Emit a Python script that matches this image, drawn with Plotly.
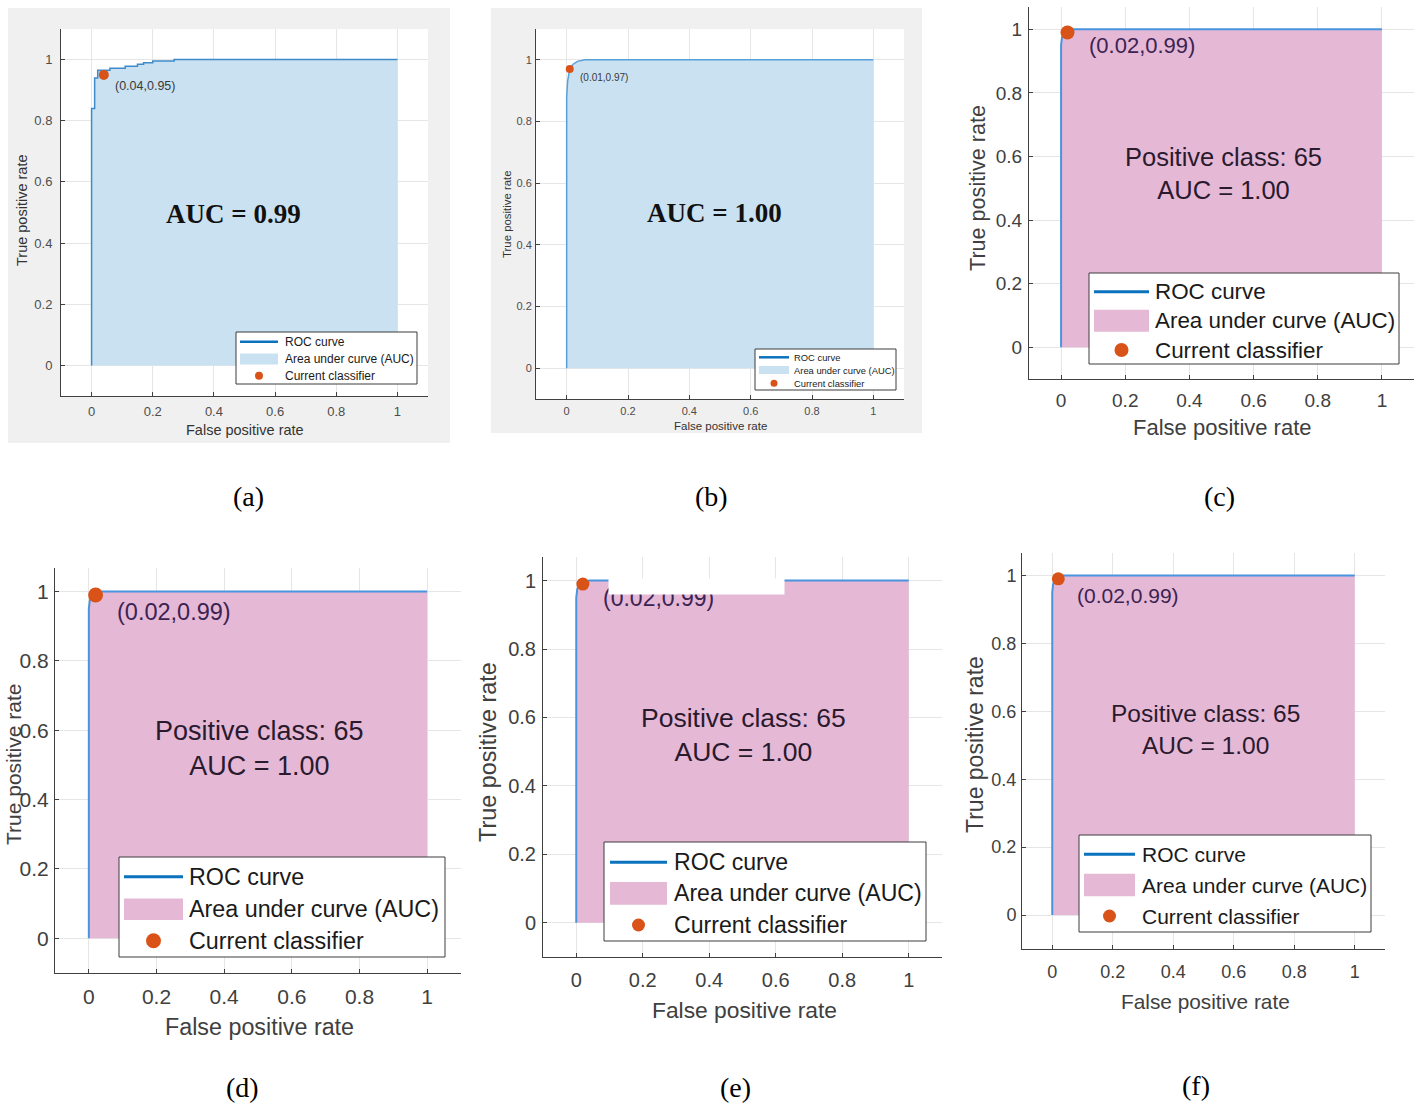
import plotly.graph_objects as go

W, H = 1418, 1106

# ---------------- data ----------------
tick_vals = [0, 0.2, 0.4, 0.6, 0.8, 1]
tick_text = ["0", "0.2", "0.4", "0.6", "0.8", "1"]
legend_labels = ["ROC curve", "Area under curve (AUC)", "Current classifier"]
x_title = "False positive rate"
y_title = "True positive rate"
panel_letters = ["(a)", "(b)", "(c)", "(d)", "(e)", "(f)"]

fpr_a = [0, 0, 0.01, 0.01, 0.02, 0.02, 0.06, 0.06, 0.11, 0.11, 0.15, 0.15, 0.17, 0.17, 0.20, 0.20, 0.27, 0.27, 1]
tpr_a = [0, 0.84, 0.84, 0.94, 0.94, 0.965, 0.965, 0.972, 0.972, 0.978, 0.978, 0.985, 0.985, 0.99, 0.99, 0.995, 0.995, 1.0, 1.0]
op_a = [0.04, 0.95]
auc_a = 0.99

fpr_b = [0, 0, 0.003, 0.01, 0.02, 0.035, 0.06, 0.15, 1]
tpr_b = [0, 0.88, 0.93, 0.97, 0.985, 0.995, 1.0, 1.0, 1.0]
op_b = [0.01, 0.97]
auc_b = 1.00

fpr_c = [0, 0, 0.003, 0.008, 0.015, 0.025, 0.04, 1]
tpr_c = [0, 0.95, 0.975, 0.985, 0.99, 0.997, 1.0, 1.0]
fpr_d = [0, 0, 0.003, 0.008, 0.015, 0.025, 0.04, 1]
tpr_d = [0, 0.95, 0.975, 0.985, 0.99, 0.997, 1.0, 1.0]
fpr_e = [0, 0, 0.003, 0.008, 0.015, 0.025, 0.04, 1]
tpr_e = [0, 0.95, 0.975, 0.985, 0.99, 0.997, 1.0, 1.0]
fpr_f = [0, 0, 0.003, 0.008, 0.015, 0.025, 0.04, 1]
tpr_f = [0, 0.95, 0.975, 0.985, 0.99, 0.997, 1.0, 1.0]
op_cdef = [0.02, 0.99]
positive_class = 65
auc_cdef = 1.00

# ---------------- styles / geometry (pixels) ----------------
BLUE_FILL = "#c9e1f1"
PINK_FILL = "#e5b8d6"
ORANGE = "#d95319"
LEG_LINE = "#0b72bd"

panels = [
    dict(fpr=fpr_a, tpr=tpr_a, op=op_a, ytop=1.1,
         ax=(61, 428, 29, 396), fill=BLUE_FILL, line="#3d8bcb", lw=1.5,
         main="<b>AUC = %.2f</b>" % auc_a, main_xy=(233, 214), main_font=27, main_family="Liberation Serif", main_color="#111111",
         lab_shift=(9, -11), lab_font=12.5, lab_color="#3a3a3a", msize=10,
         tick_font=13, tick_color="#4d4d4d", xstand=3, ystand=5,
         xt=(245, 430, 14.5), yt=(22, 211, 14.5), title_color="#333333",
         leg=dict(box=(236, 417, 332, 384), rows=(341.7, 359, 375.7), icon=(240, 278), ah=11, ms=8, lw=2.5, tx=283, font=12),
         bg=(8, 8, 450, 443), letter=(248, 497)),
    dict(fpr=fpr_b, tpr=tpr_b, op=op_b, ytop=1.1,
         ax=(536, 904, 29, 399), fill=BLUE_FILL, line="#5aa0d8", lw=1.5,
         main="<b>AUC = %.2f</b>" % auc_b, main_xy=(714, 213), main_font=27, main_family="Liberation Serif", main_color="#111111",
         lab_shift=(8, -8), lab_font=10, lab_color="#3a3a3a", msize=8,
         tick_font=11, tick_color="#4d4d4d", xstand=2, ystand=1,
         xt=(720, 426, 11.5), yt=(507, 214, 11.4), title_color="#333333",
         leg=dict(box=(755, 896, 349, 390), rows=(357.3, 370, 383.3), icon=(759, 789), ah=8, ms=7, lw=2.5, tx=792, font=9.4),
         bg=(491, 8, 922, 433), letter=(711, 497)),
    dict(fpr=fpr_c, tpr=tpr_c, op=op_cdef, ytop=1.07,
         ax=(1029, 1414, 7, 379), fill=PINK_FILL, line="#4a94dd", lw=2,
         main="Positive class: %d<br>AUC = %.2f" % (positive_class, auc_cdef), main_xy=(1223, 173), main_font=25.5,
         main_family="Liberation Sans", main_color="#2a1a2e",
         lab_shift=(19, -13.5), lab_font=22, lab_color="#3b2352", msize=14,
         tick_font=19, tick_color="#404040", xstand=4, ystand=2,
         xt=(1222.5, 427, 22), yt=(977, 188, 21.6), title_color="#404040",
         leg=dict(box=(1089, 1399, 273, 364), rows=(291.7, 320.7, 350), icon=(1094, 1149), ah=22, ms=14, lw=3, tx=1153, font=22.4),
         bg=None, letter=(1219, 497)),
    dict(fpr=fpr_d, tpr=tpr_d, op=op_cdef, ytop=1.068,
         ax=(55, 461, 568, 973), fill=PINK_FILL, line="#4a94dd", lw=2,
         main="Positive class: %d<br>AUC = %.2f" % (positive_class, auc_cdef), main_xy=(259, 748), main_font=27,
         main_family="Liberation Sans", main_color="#2a1a2e",
         lab_shift=(19, -17), lab_font=23.5, lab_color="#3b2352", msize=15,
         tick_font=21, tick_color="#404040", xstand=5, ystand=1,
         xt=(259.5, 1027, 23.3), yt=(13, 765, 21), title_color="#404040",
         leg=dict(box=(119, 445, 857, 957), rows=(876.7, 909.3, 940.7), icon=(124, 183), ah=21.6, ms=15, lw=3, tx=187, font=23.3),
         bg=None, letter=(242, 1087)),
    dict(fpr=fpr_e, tpr=tpr_e, op=op_cdef, ytop=1.069,
         ax=(543, 942, 557, 957), fill=PINK_FILL, line="#4a94dd", lw=2,
         main="Positive class: %d<br>AUC = %.2f" % (positive_class, auc_cdef), main_xy=(743, 735), main_font=26.5,
         main_family="Liberation Sans", main_color="#2a1a2e",
         lab_shift=(18, -14), lab_font=23, lab_color="#3b2352", msize=13,
         tick_font=20, tick_color="#404040", xstand=5, ystand=2,
         xt=(744.5, 1010, 22.8), yt=(488, 752, 23.4), title_color="#404040",
         leg=dict(box=(604, 926, 842, 941), rows=(862.3, 893.3, 925), icon=(610, 667), ah=22.7, ms=13, lw=3, tx=672, font=23.1),
         bg=None, letter=(735, 1087)),
    dict(fpr=fpr_f, tpr=tpr_f, op=op_cdef, ytop=1.066,
         ax=(1022, 1385, 553, 949), fill=PINK_FILL, line="#4a94dd", lw=2,
         main="Positive class: %d<br>AUC = %.2f" % (positive_class, auc_cdef), main_xy=(1205, 729), main_font=24.5,
         main_family="Liberation Sans", main_color="#2a1a2e",
         lab_shift=(17, -16.5), lab_font=21, lab_color="#3b2352", msize=13,
         tick_font=18, tick_color="#404040", xstand=6, ystand=1,
         xt=(1205.5, 1001, 20.8), yt=(975, 745, 23), title_color="#404040",
         leg=dict(box=(1079, 1371, 835, 932), rows=(854.3, 885, 916), icon=(1084, 1135), ah=22.7, ms=13, lw=3, tx=1140, font=21),
         bg=None, letter=(1196, 1085)),
]

REDACT_E = (608, 578, 783, 593)  # white box covering part of panel (e)


def px(x):
    return x / W


def py(y):
    return 1 - y / H


fig = go.Figure()
shapes = []
annotations = []
layout = {}

for i, p in enumerate(panels, 1):
    sx = "" if i == 1 else str(i)
    xref, yref = "x" + sx, "y" + sx
    x0, x1, yt_, yb_ = p["ax"]

    # area under curve
    fig.add_trace(go.Scatter(x=p["fpr"], y=p["tpr"], mode="lines", fill="tozeroy",
                             fillcolor=p["fill"], line=dict(width=0, color=p["fill"]),
                             name=legend_labels[1], showlegend=False, hoverinfo="skip",
                             xaxis=xref, yaxis=yref))
    # ROC curve
    fig.add_trace(go.Scatter(x=p["fpr"], y=p["tpr"], mode="lines",
                             line=dict(width=p["lw"], color=p["line"]),
                             name=legend_labels[0], showlegend=False,
                             xaxis=xref, yaxis=yref))
    # current classifier
    fig.add_trace(go.Scatter(x=[p["op"][0]], y=[p["op"][1]], mode="markers",
                             marker=dict(size=p["msize"], color=ORANGE, line=dict(width=0)),
                             name=legend_labels[2], showlegend=False, cliponaxis=False,
                             xaxis=xref, yaxis=yref))

    common = dict(showgrid=True, gridcolor="#e6e6e6", gridwidth=1, zeroline=False,
                  showline=True, linecolor="#404040", linewidth=1, mirror=False,
                  ticks="inside", ticklen=4, tickcolor="#404040",
                  tickvals=tick_vals, ticktext=tick_text, automargin=False,
                  fixedrange=True)
    layout["xaxis" + sx] = dict(common, domain=[px(x0), px(x1)], range=[-0.1, 1.1], anchor=yref,
                                tickfont=dict(family="Liberation Sans", size=p["tick_font"], color=p["tick_color"]),
                                ticklabelstandoff=p["xstand"])
    layout["yaxis" + sx] = dict(common, domain=[py(yb_), py(yt_)], range=[-0.1, p["ytop"]], anchor=xref,
                                tickfont=dict(family="Liberation Sans", size=p["tick_font"], color=p["tick_color"]),
                                ticklabelstandoff=p["ystand"])

    # figure-style gray background (panels a, b)
    if p["bg"]:
        bx0, by0, bx1, by1 = p["bg"]
        shapes.append(dict(type="rect", xref="paper", yref="paper", layer="below",
                           x0=px(bx0), x1=px(bx1), y0=py(by1), y1=py(by0),
                           fillcolor="#f0f0f0", line=dict(width=0)))
        shapes.append(dict(type="rect", xref="paper", yref="paper", layer="below",
                           x0=px(x0), x1=px(x1), y0=py(yb_), y1=py(yt_),
                           fillcolor="#ffffff", line=dict(width=0)))

    # main text
    annotations.append(dict(xref="paper", yref="paper", x=px(p["main_xy"][0]), y=py(p["main_xy"][1]),
                            text=p["main"], showarrow=False, xanchor="center", yanchor="middle",
                            font=dict(family=p["main_family"], size=p["main_font"], color=p["main_color"])))
    # operating point label
    annotations.append(dict(xref=xref, yref=yref, x=p["op"][0], y=p["op"][1],
                            text="(%.2f,%.2f)" % (p["op"][0], p["op"][1]), showarrow=False,
                            xanchor="left", yanchor="middle", xshift=p["lab_shift"][0], yshift=p["lab_shift"][1],
                            font=dict(family="Liberation Sans", size=p["lab_font"], color=p["lab_color"])))
    # axis titles
    annotations.append(dict(xref="paper", yref="paper", x=px(p["xt"][0]), y=py(p["xt"][1]),
                            text=x_title, showarrow=False, xanchor="center", yanchor="middle",
                            font=dict(family="Liberation Sans", size=p["xt"][2], color=p["title_color"])))
    annotations.append(dict(xref="paper", yref="paper", x=px(p["yt"][0]), y=py(p["yt"][1]),
                            text=y_title, showarrow=False, xanchor="center", yanchor="middle", textangle=-90,
                            borderpad=0,
                            font=dict(family="Liberation Sans", size=p["yt"][2], color=p["title_color"])))
    # panel letter
    annotations.append(dict(xref="paper", yref="paper", x=px(p["letter"][0]), y=py(p["letter"][1]),
                            text=panel_letters[i - 1], showarrow=False, xanchor="center", yanchor="middle",
                            font=dict(family="Liberation Serif", size=28, color="#000000")))

    # legend
    L = p["leg"]
    lx0, lx1, ly0, ly1 = L["box"]
    shapes.append(dict(type="rect", xref="paper", yref="paper", x0=px(lx0), x1=px(lx1),
                       y0=py(ly1), y1=py(ly0), fillcolor="#ffffff", line=dict(color="#3c3c3c", width=1)))
    ix0, ix1 = L["icon"]
    r0, r1, r2 = L["rows"]
    shapes.append(dict(type="line", xref="paper", yref="paper", x0=px(ix0), x1=px(ix1),
                       y0=py(r0), y1=py(r0), line=dict(color=LEG_LINE, width=L["lw"])))
    shapes.append(dict(type="rect", xref="paper", yref="paper", x0=px(ix0), x1=px(ix1),
                       y0=py(r1 + L["ah"] / 2), y1=py(r1 - L["ah"] / 2), fillcolor=p["fill"], line=dict(width=0)))
    cx = (ix0 + ix1) / 2
    rr = L["ms"] / 2
    shapes.append(dict(type="circle", xref="paper", yref="paper", xsizemode="pixel", ysizemode="pixel",
                       xanchor=px(cx), yanchor=py(r2), x0=-rr, x1=rr, y0=-rr, y1=rr,
                       fillcolor=ORANGE, line=dict(width=0)))
    for lab, ry in zip(legend_labels, L["rows"]):
        annotations.append(dict(xref="paper", yref="paper", x=px(L["tx"]), y=py(ry), text=lab,
                                showarrow=False, xanchor="left", yanchor="middle",
                                font=dict(family="Liberation Sans", size=L["font"], color="#1a1a1a")))

# white redaction box present in panel (e)
rx0, ry0, rx1, ry1 = REDACT_E
annotations.append(dict(xref="paper", yref="paper", x=px(rx0), y=py(ry0), xanchor="left", yanchor="top",
                        text=" ", showarrow=False, width=rx1 - rx0, height=ry1 - ry0,
                        bgcolor="#ffffff", borderpad=0, font=dict(size=8)))

fig.update_layout(**layout)
fig.update_layout(width=W, height=H, margin=dict(l=0, r=0, t=0, b=0),
                  paper_bgcolor="#ffffff", plot_bgcolor="#ffffff",
                  showlegend=False, shapes=shapes, annotations=annotations)

fig.write_html("out.html", config={"displayModeBar": False},
               post_script="document.body.style.margin='0px';document.body.style.overflow='hidden';")
